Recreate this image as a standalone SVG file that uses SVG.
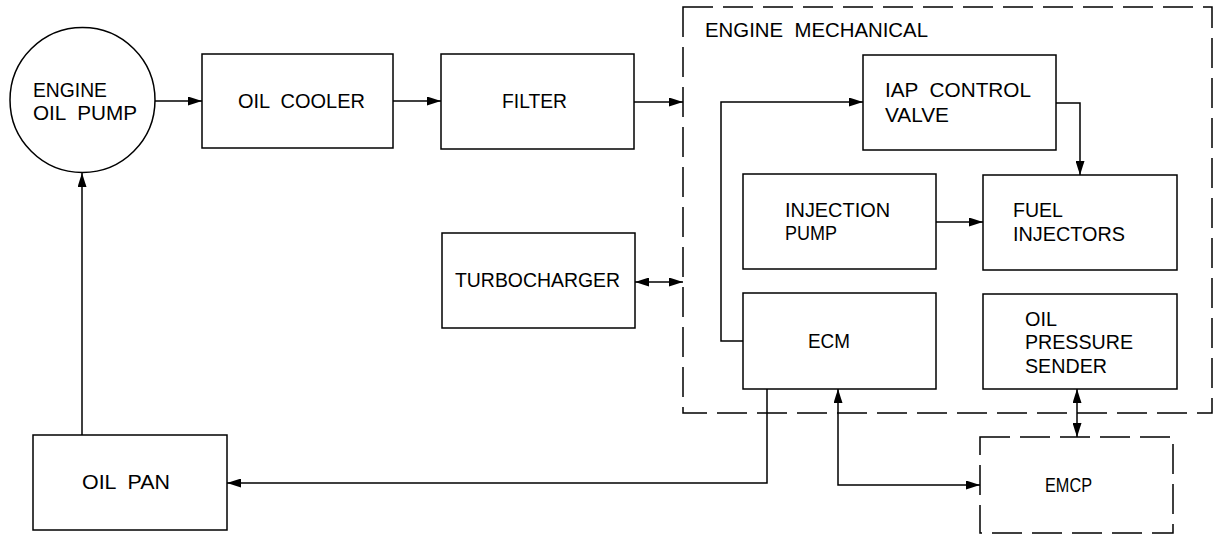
<svg xmlns="http://www.w3.org/2000/svg" width="1227" height="538" viewBox="0 0 1227 538">
<style>
.box{fill:#fff;stroke:#000;stroke-width:1.5}
.dash{fill:none;stroke:#000;stroke-width:1.5;stroke-dasharray:30 10}
.ln{fill:none;stroke:#000;stroke-width:1.5}
text{font-family:"Liberation Sans",Arial,sans-serif;font-size:20px;fill:#000;white-space:pre}
</style>
<defs>
<marker id="ah" viewBox="0 0 14 9" refX="14" refY="4.5" markerWidth="14" markerHeight="9" markerUnits="userSpaceOnUse" orient="auto-start-reverse">
<path d="M0,0 L14,4.5 L0,9 Z" fill="#000"/>
</marker>
</defs>
<rect width="1227" height="538" fill="#fff"/>
<g id="engine-mechanical">
<rect class="dash" x="683" y="7" width="529" height="406"/>
<text x="705" y="37" textLength="223" lengthAdjust="spacingAndGlyphs">ENGINE  MECHANICAL</text>
</g>
<g id="engine-oil-pump">
<circle class="box" cx="82.5" cy="100" r="72.5"/>
<text x="33" y="97" textLength="74" lengthAdjust="spacingAndGlyphs">ENGINE</text>
<text x="33" y="120" textLength="104" lengthAdjust="spacingAndGlyphs">OIL  PUMP</text>
</g>
<g id="oil-cooler">
<rect class="box" x="202" y="54" width="191" height="94"/>
<text x="238" y="108" textLength="127" lengthAdjust="spacingAndGlyphs">OIL  COOLER</text>
</g>
<g id="filter">
<rect class="box" x="441" y="54" width="193" height="95"/>
<text x="502" y="108" textLength="65" lengthAdjust="spacingAndGlyphs">FILTER</text>
</g>
<g id="iap-control-valve">
<rect class="box" x="863" y="55" width="193" height="95"/>
<text x="885" y="97" textLength="146" lengthAdjust="spacingAndGlyphs">IAP  CONTROL</text>
<text x="885" y="122" textLength="64" lengthAdjust="spacingAndGlyphs">VALVE</text>
</g>
<g id="injection-pump">
<rect class="box" x="743" y="174" width="193" height="95"/>
<text x="785" y="217" textLength="105" lengthAdjust="spacingAndGlyphs">INJECTION</text>
<text x="785" y="240" textLength="52" lengthAdjust="spacingAndGlyphs">PUMP</text>
</g>
<g id="fuel-injectors">
<rect class="box" x="983" y="175" width="194" height="95"/>
<text x="1013" y="217" textLength="50" lengthAdjust="spacingAndGlyphs">FUEL</text>
<text x="1013" y="241" textLength="112" lengthAdjust="spacingAndGlyphs">INJECTORS</text>
</g>
<g id="turbocharger">
<rect class="box" x="442" y="233" width="193" height="95"/>
<text x="455" y="287" textLength="165" lengthAdjust="spacingAndGlyphs">TURBOCHARGER</text>
</g>
<g id="ecm">
<rect class="box" x="743" y="293" width="193" height="96"/>
<text x="808" y="348" textLength="42" lengthAdjust="spacingAndGlyphs">ECM</text>
</g>
<g id="oil-pressure-sender">
<rect class="box" x="983" y="294" width="194" height="95"/>
<text x="1025" y="326" textLength="32" lengthAdjust="spacingAndGlyphs">OIL</text>
<text x="1025" y="349" textLength="108" lengthAdjust="spacingAndGlyphs">PRESSURE</text>
<text x="1025" y="373" textLength="82" lengthAdjust="spacingAndGlyphs">SENDER</text>
</g>
<g id="oil-pan">
<rect class="box" x="33" y="435" width="194" height="95"/>
<text x="82" y="489" textLength="88" lengthAdjust="spacingAndGlyphs">OIL  PAN</text>
</g>
<g id="emcp">
<rect class="dash" x="980" y="437" width="193" height="96"/>
<text x="1045" y="492" textLength="47" lengthAdjust="spacingAndGlyphs">EMCP</text>
</g>
<g id="connectors">
<path class="ln" d="M155,101 H202" marker-end="url(#ah)"/>
<path class="ln" d="M393,101 H441" marker-end="url(#ah)"/>
<path class="ln" d="M634,102 H683" marker-end="url(#ah)"/>
<path class="ln" d="M743,341 H721 V102 H863" marker-end="url(#ah)"/>
<path class="ln" d="M1056,103 H1080 V175" marker-end="url(#ah)"/>
<path class="ln" d="M936,222 H983" marker-end="url(#ah)"/>
<path class="ln" d="M635,282 H683" marker-start="url(#ah)" marker-end="url(#ah)"/>
<path class="ln" d="M767,389 V483 H227" marker-end="url(#ah)"/>
<path class="ln" d="M82,435 V173" marker-end="url(#ah)"/>
<path class="ln" d="M838,389 V485 H980" marker-start="url(#ah)" marker-end="url(#ah)"/>
<path class="ln" d="M1077,389 V437" marker-start="url(#ah)" marker-end="url(#ah)"/>
</g>
</svg>
